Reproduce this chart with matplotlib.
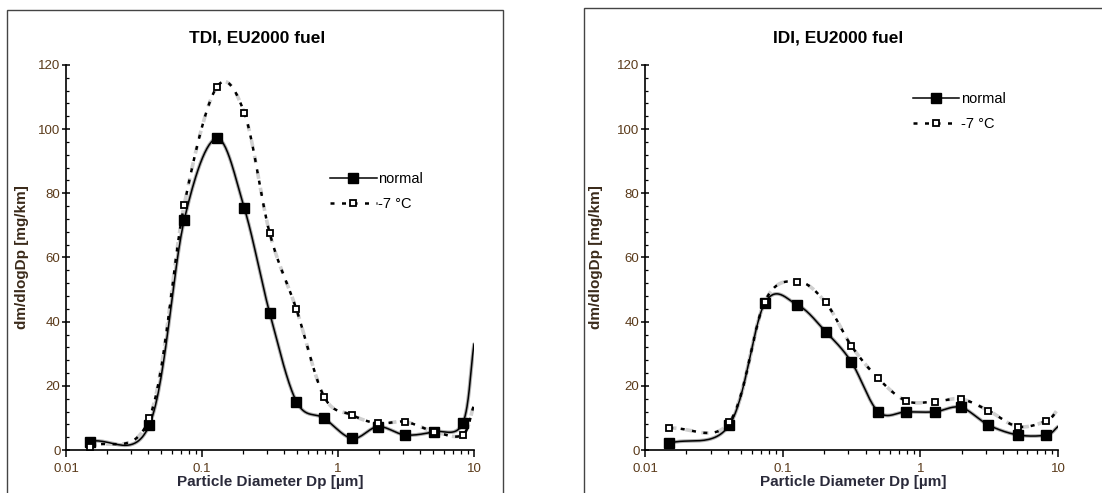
import numpy as np
import matplotlib
matplotlib.use("Agg")
from matplotlib import pyplot as plt
from matplotlib.patches import Rectangle
from matplotlib.ticker import MultipleLocator, FixedLocator, NullFormatter

plt.rcParams['font.family'] = ['Liberation Sans', 'DejaVu Sans']

# particle diameters [um] of the measured points
dp = [0.015, 0.041, 0.074, 0.128, 0.205, 0.315, 0.495, 0.79, 1.27, 1.97, 3.12, 5.1, 8.25]
# value where the drawn curve meets the right edge (x = 10), no marker there
dp_edge = 10.0

tdi_normal = [2.6, 7.8, 71.7, 97.1, 75.3, 42.6, 15.1, 9.9, 3.6, 7.3, 4.7, 5.7, 8.3]
tdi_cold = [1.0, 9.9, 76.4, 113.0, 105.0, 67.5, 43.8, 16.6, 10.9, 8.3, 8.8, 5.7, 4.7]
tdi_edge = [33.0, 14.0]

idi_normal = [2.1, 7.8, 45.7, 45.2, 36.9, 27.5, 11.9, 11.9, 11.9, 13.3, 7.8, 4.7, 4.7]
idi_cold = [6.8, 8.6, 46.2, 52.5, 46.0, 32.5, 22.3, 15.3, 15.1, 15.9, 12.3, 7.3, 9.1]
idi_edge = [7.3, 12.7]

titles = ['TDI, EU2000 fuel', 'IDI, EU2000 fuel']


def smooth(x, y, n=30):
    # Catmull-Rom curve through the points, in log-x space (like Excel's smoothed line)
    lx = np.log10(x)
    y = np.asarray(y, float)
    px = np.concatenate([[2 * lx[0] - lx[1]], lx, [2 * lx[-1] - lx[-2]]])
    py = np.concatenate([[2 * y[0] - y[1]], y, [2 * y[-1] - y[-2]]])
    xs, ys = [], []
    t = np.linspace(0, 1, n)
    for i in range(1, len(px) - 2):
        for p, out in ((px, xs), (py, ys)):
            p0, p1, p2, p3 = p[i - 1], p[i], p[i + 1], p[i + 2]
            out.append(0.5 * (2 * p1 + (-p0 + p2) * t
                              + (2 * p0 - 5 * p1 + 4 * p2 - p3) * t ** 2
                              + (-p0 + 3 * p1 - 3 * p2 + p3) * t ** 3))
    return 10 ** np.concatenate(xs), np.concatenate(ys)


fig = plt.figure(figsize=(11.02, 4.93), dpi=100)

# outer frames around each panel
fig.patches.append(Rectangle((7 / 1102, -0.05), 496 / 1102, 1.05 - 10 / 493,
                             transform=fig.transFigure, fill=False, lw=1.0, ec='#444444'))
fig.patches.append(Rectangle((584 / 1102, -0.05), 0.6, 1.05 - 8 / 493,
                             transform=fig.transFigure, fill=False, lw=1.0, ec='#444444'))

panels = [
    dict(pos=[66 / 1102, 0.0872, 408 / 1102, 0.781], normal=tdi_normal, cold=tdi_cold,
         edge=tdi_edge, title_x=257, ylab_x=22, xlab_x=270, leg=(0.647, 0.722)),
    dict(pos=[645 / 1102, 0.0872, 413 / 1102, 0.781], normal=idi_normal, cold=idi_cold,
         edge=idi_edge, title_x=838, ylab_x=596, xlab_x=853, leg=(0.648, 0.93)),
]

tick_col = '#5a3a1a'

for k, p in enumerate(panels):
    ax = fig.add_axes(p['pos'])
    xn, yn = smooth(dp + [dp_edge], p['normal'] + [p['edge'][0]])
    xc, yc = smooth(dp + [dp_edge], p['cold'] + [p['edge'][1]])
    # soft grey halo under the lines, as in the scanned original
    ax.plot(xn, yn, color='#b0b0b0', lw=2.6, solid_capstyle='round', zorder=1)
    ax.plot(xc, yc, color='#d0d0d0', lw=2.6, dashes=(2, 2.5), zorder=1)
    ax.plot(xc, yc, color='black', lw=1.8, dashes=(1.6, 3.0), zorder=2)
    ax.plot(xn, yn, color='black', lw=1.1, zorder=3)
    ax.plot(dp, p['normal'], ls='none', marker='s', ms=6.5, mfc='black', mec='black', zorder=4)
    ax.plot(dp, p['cold'], ls='none', marker='s', ms=5, mfc='white', mec='black', mew=1.3, zorder=5)

    # legend handles
    h1, = ax.plot([], [], color='black', lw=1.1, marker='s', ms=6.5, mfc='black', mec='black')
    h2, = ax.plot([], [], color='black', lw=1.8, dashes=(1.6, 3.0), marker='s', ms=5,
                  mfc='white', mec='black', mew=1.3)
    ax.legend([h1, h2], ['normal', '-7 \u00b0C'], loc='upper left', bbox_to_anchor=p['leg'],
              frameon=False, fontsize=10.5, handlelength=3.2, handletextpad=0.1,
              labelspacing=0.78, borderpad=0, borderaxespad=0)

    ax.set_xscale('log')
    ax.set_xlim(0.01, 10)
    ax.set_ylim(0, 120)
    ax.yaxis.set_major_locator(MultipleLocator(20))
    ax.yaxis.set_minor_locator(MultipleLocator(4))
    ax.xaxis.set_major_locator(FixedLocator([0.01, 0.1, 1, 10]))
    ax.set_xticklabels(['0.01', '0.1', '1', '10'])
    ax.xaxis.set_minor_formatter(NullFormatter())
    for s in ('top', 'right'):
        ax.spines[s].set_visible(False)
    for s in ('left', 'bottom'):
        ax.spines[s].set_linewidth(1.2)
    ax.tick_params(axis='x', which='major', direction='out', length=5, width=1.1,
                   labelsize=9.5, labelcolor=tick_col, pad=4)
    ax.tick_params(axis='x', which='minor', direction='out', length=3, width=0.9)
    ax.tick_params(axis='y', which='major', direction='inout', length=6, width=1.1,
                   labelsize=9.5, labelcolor=tick_col, pad=1)
    ax.tick_params(axis='y', which='minor', direction='in', length=2.5, width=0.9)

    fig.text(p['title_x'] / 1102, 1 - 38 / 493, titles[k], ha='center', va='center',
             fontsize=12.5, fontweight='bold')
    fig.text(p['ylab_x'] / 1102, 1 - 257 / 493, 'dm/dlogDp [mg/km]', rotation=90,
             ha='center', va='center', fontsize=11, fontweight='bold', color='#3a2a1a')
    fig.text(p['xlab_x'] / 1102, 1 - 482 / 493, 'Particle Diameter Dp [\u00b5m]',
             ha='center', va='center', fontsize=11, fontweight='bold', color='#2a2a3a')

fig.savefig('out.png', dpi=100)
